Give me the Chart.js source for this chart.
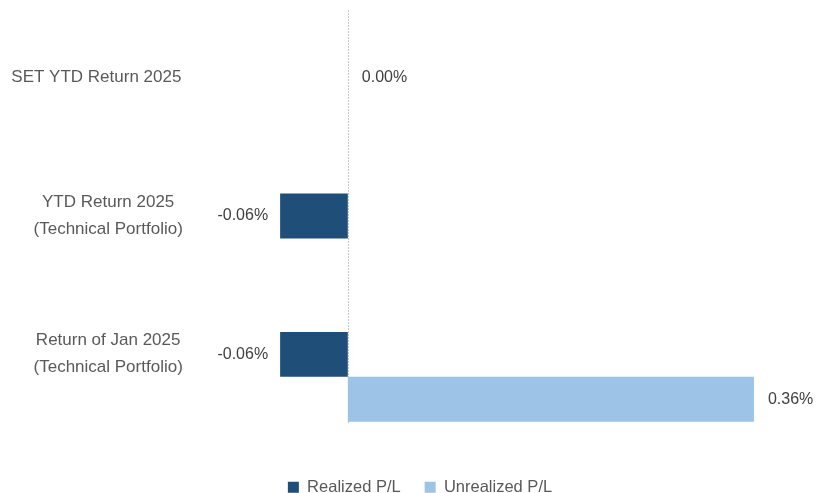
<!DOCTYPE html>
<html>
<head>
<meta charset="utf-8">
<script src="https://cdn.jsdelivr.net/npm/chart.js@4.4.1/dist/chart.umd.min.js"></script>
<style>
html, body { margin: 0; padding: 0; background: #fff; }
#wrap { width: 816px; height: 493px; }
</style>
</head>
<body>
<div id="wrap"><canvas id="plChart"></canvas></div>
<script>
var categories = [
    ['SET YTD Return 2025     '],
    ['YTD Return 2025', '(Technical Portfolio)'],
    ['Return of Jan 2025', '(Technical Portfolio)']
];
var realized = [0.00, -0.06, -0.06];
var unrealized = [null, null, 0.36];
var seriesNames = ['Realized P/L', 'Unrealized P/L'];
var seriesColors = ['#1F4E79', '#9DC3E6'];

var textFont = '"Liberation Sans", Arial, sans-serif';

// dotted zero line + value labels
var zeroLine = {
    id: 'zeroLine',
    beforeDatasetsDraw: function (chart) {
        var ctx = chart.ctx;
        var x = Math.round(chart.scales.x.getPixelForValue(0)) + 0.5;
        ctx.save();
        ctx.strokeStyle = '#C8C8C8';
        ctx.lineWidth = 1;
        ctx.setLineDash([2, 1]);
        ctx.beginPath();
        ctx.moveTo(x, chart.chartArea.top - 21);
        ctx.lineTo(x, chart.chartArea.bottom - 23);
        ctx.stroke();
        ctx.restore();
    }
};

var valueLabels = {
    id: 'valueLabels',
    afterDatasetsDraw: function (chart) {
        var ctx = chart.ctx;
        ctx.save();
        ctx.font = '16px ' + textFont;
        ctx.fillStyle = '#404040';
        ctx.textBaseline = 'middle';
        chart.data.datasets.forEach(function (ds, i) {
            chart.getDatasetMeta(i).data.forEach(function (bar, j) {
                var v = ds.data[j];
                if (v === null) return;
                var txt = v.toFixed(2) + '%';
                if (v < 0) {
                    ctx.textAlign = 'right';
                    ctx.fillText(txt, bar.x - 12, bar.y);
                } else {
                    ctx.textAlign = 'left';
                    ctx.fillText(txt, bar.x + 14, bar.y);
                }
            });
        });
        ctx.restore();
    }
};

new Chart(document.getElementById('plChart').getContext('2d'), {
    type: 'bar',
    data: {
        labels: categories,
        datasets: [{
            label: seriesNames[0],
            data: realized,
            backgroundColor: seriesColors[0]
        }, {
            label: seriesNames[1],
            data: unrealized,
            backgroundColor: seriesColors[1]
        }]
    },
    options: {
        indexAxis: 'y',
        responsive: true,
        maintainAspectRatio: false,
        animation: false,
        layout: { padding: { top: 31, right: -24, bottom: -12.5, left: 0 } },
        datasets: {
            bar: { categoryPercentage: 0.65, barPercentage: 1 }
        },
        scales: {
            x: {
                min: -0.1,
                max: 0.415,
                grid: { display: false },
                border: { display: false },
                ticks: { display: false },
                afterFit: function (scale) {
                    scale.height = 9;
                    scale.paddingLeft = 0;
                    scale.paddingRight = 0;
                }
            },
            y: {
                grid: { display: false },
                border: { display: false },
                afterFit: function (scale) {
                    scale.width = 235;
                    scale.paddingTop = 0;
                    scale.paddingBottom = 0;
                },
                ticks: {
                    color: '#595959',
                    crossAlign: 'center',
                    padding: 22,
                    labelOffset: -23,
                    font: { family: textFont, size: 17, lineHeight: '27px' }
                }
            }
        },
        plugins: {
            legend: {
                position: 'bottom',
                labels: {
                    boxWidth: 11,
                    boxHeight: 11,
                    padding: 24,
                    color: '#595959',
                    font: { family: textFont, size: 16.5 }
                }
            },
            tooltip: { enabled: false }
        }
    },
    plugins: [zeroLine, valueLabels]
});
</script>
</body>
</html>
